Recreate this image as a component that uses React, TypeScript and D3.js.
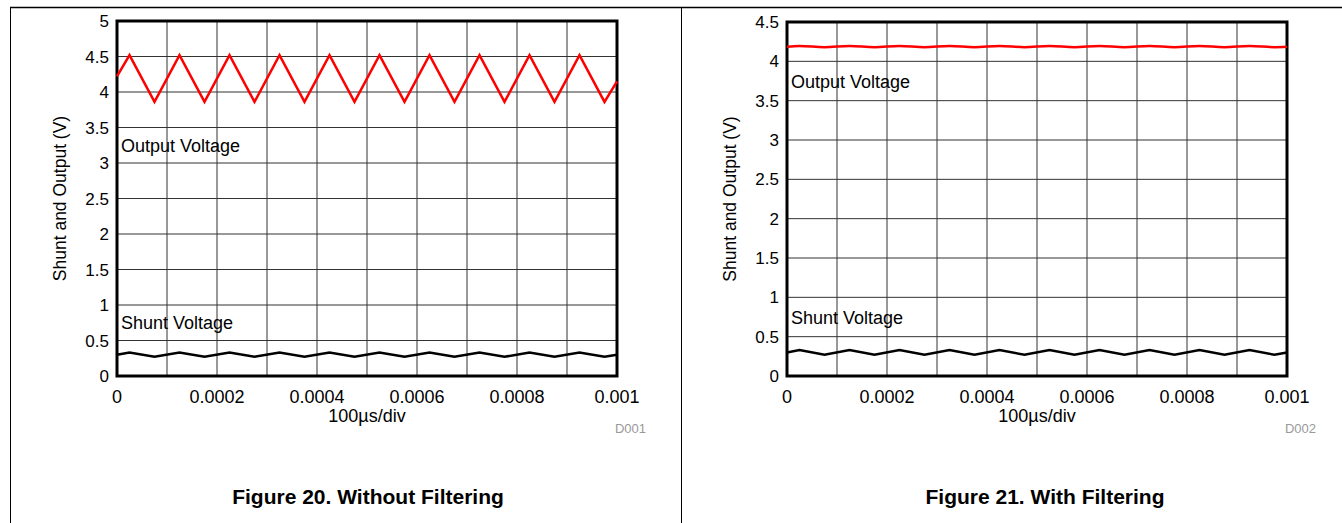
import React, { useRef, useEffect } from "react";
import * as d3 from "d3";

// sample times in microseconds (triangle vertices)
const TIME_US = [
  0, 25, 75, 125, 175, 225, 275, 325, 375, 425, 475, 525, 575, 625, 675, 725,
  775, 825, 875, 925, 975, 1000,
];

const OUTPUT_UNFILTERED = [
  4.22, 4.52, 3.86, 4.52, 3.86, 4.52, 3.86, 4.52, 3.86, 4.52, 3.86, 4.52, 3.86,
  4.52, 3.86, 4.52, 3.86, 4.52, 3.86, 4.52, 3.86, 4.15,
];

const OUTPUT_FILTERED = [
  4.185, 4.195, 4.18, 4.195, 4.18, 4.195, 4.18, 4.195, 4.18, 4.195, 4.18, 4.195,
  4.18, 4.195, 4.18, 4.195, 4.18, 4.195, 4.18, 4.195, 4.18, 4.185,
];

const SHUNT = [
  0.3, 0.33, 0.27, 0.33, 0.27, 0.33, 0.27, 0.33, 0.27, 0.33, 0.27, 0.33, 0.27,
  0.33, 0.27, 0.33, 0.27, 0.33, 0.27, 0.33, 0.27, 0.3,
];

const X_TICKS_US = [0, 200, 400, 600, 800, 1000];
const X_TICK_LABELS = ["0", "0.0002", "0.0004", "0.0006", "0.0008", "0.001"];
const X_GRID_US = [100, 200, 300, 400, 500, 600, 700, 800, 900];

const Y_TICKS_1 = [0, 0.5, 1, 1.5, 2, 2.5, 3, 3.5, 4, 4.5, 5];
const Y_TICKS_2 = [0, 0.5, 1, 1.5, 2, 2.5, 3, 3.5, 4, 4.5];

const FONT = "'Liberation Sans', Arial, sans-serif";

export default function App() {
  const svgRef = useRef<SVGSVGElement>(null);
  const width = 1342;
  const height = 523;

  useEffect(() => {
    if (!svgRef.current) return;
    const svg = d3.select(svgRef.current);
    svg.selectAll("*").remove();

    // outer frame
    svg.append("line").attr("x1", 10).attr("x2", width).attr("y1", 7.5).attr("y2", 7.5)
      .attr("stroke", "#000").attr("stroke-width", 1.5);
    svg.append("line").attr("x1", 10.5).attr("x2", 10.5).attr("y1", 7).attr("y2", height)
      .attr("stroke", "#000").attr("stroke-width", 1);
    svg.append("line").attr("x1", 681.5).attr("x2", 681.5).attr("y1", 7).attr("y2", height)
      .attr("stroke", "#000").attr("stroke-width", 1);

    const panels = [
      {
        left: 117, right: 617, top: 21, bottom: 376, yMax: 5, yTicks: Y_TICKS_1,
        output: OUTPUT_UNFILTERED, code: "D001", caption: "Figure 20. Without Filtering",
        outLabelY: 152, shuntLabelY: 329, captionX: 368,
      },
      {
        left: 787, right: 1287, top: 22, bottom: 376, yMax: 4.5, yTicks: Y_TICKS_2,
        output: OUTPUT_FILTERED, code: "D002", caption: "Figure 21. With Filtering",
        outLabelY: 88, shuntLabelY: 324, captionX: 1045,
      },
    ];

    panels.forEach((p) => {
      const x = d3.scaleLinear().domain([0, 1000]).range([p.left, p.right]);
      const y = d3.scaleLinear().domain([0, p.yMax]).range([p.bottom, p.top]);
      const g = svg.append("g");

      // grid
      X_GRID_US.forEach((t) => {
        g.append("line")
          .attr("x1", x(t)).attr("x2", x(t))
          .attr("y1", p.top).attr("y2", p.bottom)
          .attr("stroke", "#333").attr("stroke-width", 1);
      });
      p.yTicks.slice(1, -1).forEach((v) => {
        g.append("line")
          .attr("x1", p.left).attr("x2", p.right)
          .attr("y1", y(v)).attr("y2", y(v))
          .attr("stroke", "#333").attr("stroke-width", 1);
      });

      // plot border
      g.append("rect")
        .attr("x", p.left).attr("y", p.top)
        .attr("width", p.right - p.left).attr("height", p.bottom - p.top)
        .attr("fill", "none").attr("stroke", "#000").attr("stroke-width", 3);

      // y tick labels
      p.yTicks.forEach((v) => {
        g.append("text")
          .attr("x", p.left - 8).attr("y", y(v) + 6)
          .attr("text-anchor", "end")
          .style("font-family", FONT).style("font-size", "17px").style("fill", "#000")
          .text(String(v));
      });

      // x tick labels
      X_TICKS_US.forEach((t, i) => {
        g.append("text")
          .attr("x", x(t)).attr("y", 403)
          .attr("text-anchor", "middle")
          .style("font-family", FONT).style("font-size", "18px").style("fill", "#000")
          .text(X_TICK_LABELS[i]);
      });

      // axis titles
      g.append("text")
        .attr("x", (p.left + p.right) / 2).attr("y", 422)
        .attr("text-anchor", "middle")
        .style("font-family", FONT).style("font-size", "18px").style("fill", "#000")
        .text("100µs/div");
      g.append("text")
        .attr("transform", `translate(${p.left - 51},${(p.top + p.bottom) / 2}) rotate(-90)`)
        .attr("text-anchor", "middle")
        .style("font-family", FONT).style("font-size", "17.5px").style("fill", "#000")
        .text("Shunt and Output (V)");
      g.append("text")
        .attr("x", p.right + 29).attr("y", 433)
        .attr("text-anchor", "end")
        .style("font-family", FONT).style("font-size", "13px").style("fill", "#999")
        .text(p.code);

      // series
      const line = d3.line<number>()
        .x((_, i) => x(TIME_US[i]))
        .y((d) => y(d));
      const smooth = p.code === "D002" ? d3.curveMonotoneX : d3.curveLinear;

      g.append("path")
        .datum(SHUNT)
        .attr("d", line)
        .attr("fill", "none").attr("stroke", "#000").attr("stroke-width", 2.5);
      g.append("path")
        .datum(p.output)
        .attr("d", line.curve(smooth))
        .attr("fill", "none").attr("stroke", "#ff0000").attr("stroke-width", 2.5);

      // series labels
      g.append("text")
        .attr("x", p.left + 4).attr("y", p.outLabelY)
        .style("font-family", FONT).style("font-size", "18px").style("fill", "#000")
        .text("Output Voltage");
      g.append("text")
        .attr("x", p.left + 4).attr("y", p.shuntLabelY)
        .style("font-family", FONT).style("font-size", "18px").style("fill", "#000")
        .text("Shunt Voltage");

      // caption
      g.append("text")
        .attr("x", p.captionX).attr("y", 504)
        .attr("text-anchor", "middle")
        .style("font-family", FONT).style("font-size", "21px")
        .style("font-weight", "bold").style("fill", "#000")
        .text(p.caption);
    });
  }, []);

  return (
    <svg
      ref={svgRef}
      width={width}
      height={height}
      style={{ position: "absolute", left: 0, top: 0, background: "#fff" }}
      viewBox={`0 0 ${width} ${height}`}
    />
  );
}
